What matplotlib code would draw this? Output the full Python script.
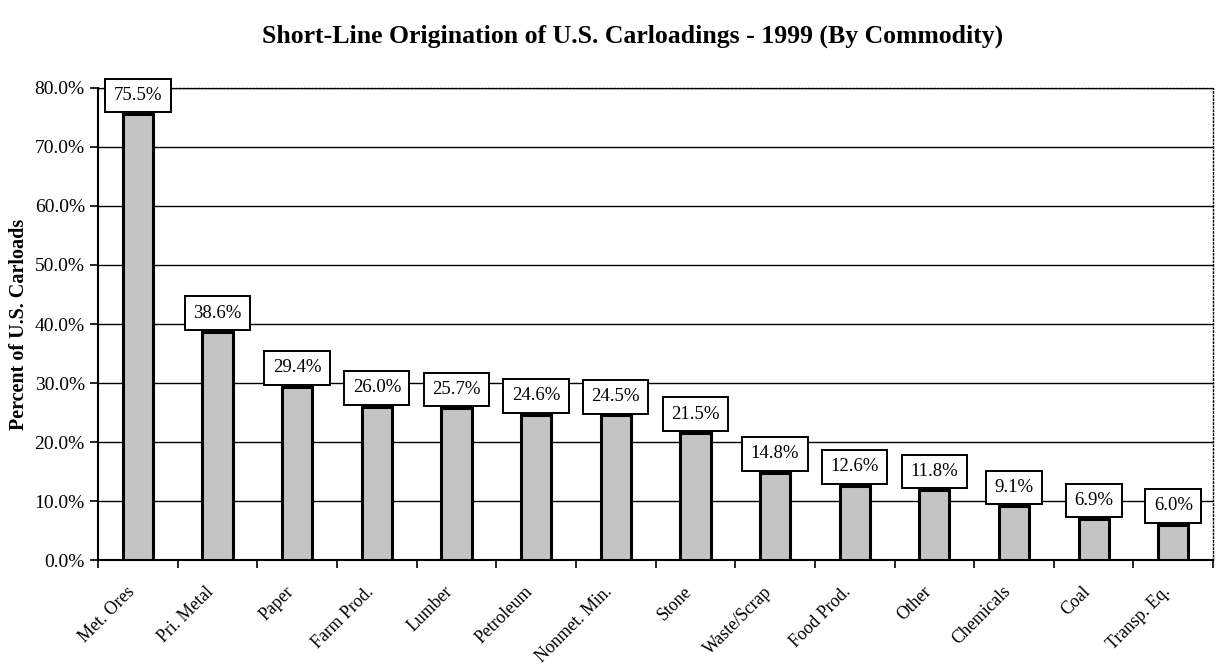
import matplotlib.pyplot as plt
import matplotlib.transforms as mtransforms
import numpy as np

commodities = ['Met. Ores', 'Pri. Metal', 'Paper', 'Farm Prod.', 'Lumber', 'Petroleum',
               'Nonmet. Min.', 'Stone', 'Waste/Scrap', 'Food Prod.', 'Other',
               'Chemicals', 'Coal', 'Transp. Eq.']
shares = [75.5, 38.6, 29.4, 26.0, 25.7, 24.6, 24.5, 21.5, 14.8, 12.6, 11.8, 9.1, 6.9, 6.0]

plt.rcParams['font.family'] = ['Liberation Serif', 'DejaVu Serif']

fig = plt.figure(figsize=(12.18, 6.66), dpi=100)
ax = fig.add_axes([0.0805, 0.159, 0.9155, 0.709])

x = np.arange(len(commodities))
ax.bar(x, shares, width=0.38, color='#c4c4c4', edgecolor='black', linewidth=2.2, zorder=3)

for xi, v in zip(x, shares):
    ax.annotate(f'{v:.1f}%', (xi, v), xytext=(0, 7.5), textcoords='offset points',
                ha='center', va='bottom', fontsize=13.5, zorder=5,
                bbox=dict(boxstyle='square,pad=0.45', fc='white', ec='black', lw=1.4))

ax.set_xlim(-0.5, len(commodities) - 0.5)
ax.set_ylim(0, 80)
ax.set_yticks(np.arange(0, 81, 10))
ax.set_yticklabels([f'{t:.1f}%' for t in np.arange(0, 81, 10)], fontsize=14)
ax.yaxis.grid(True, color='black', linewidth=1, zorder=0)
ax.set_axisbelow(True)

ax.set_xticks(x)
ax.set_xticklabels(commodities, rotation=45, ha='right', va='center',
                   rotation_mode='anchor', fontsize=12.8)
ax.tick_params(axis='x', length=0, pad=21)
shift = mtransforms.ScaledTranslation(-6 / 100, 0, fig.dpi_scale_trans)
for lab in ax.get_xticklabels():
    lab.set_transform(lab.get_transform() + shift)
ax.set_xticks(np.arange(-0.5, len(commodities)), minor=True)
ax.tick_params(axis='x', which='minor', length=6, width=1.2, direction='out')
ax.tick_params(axis='y', length=6, width=1.2, direction='out')

ax.spines['left'].set_linewidth(1.5)
ax.spines['bottom'].set_linewidth(1.5)
for s in ['top', 'right']:
    ax.spines[s].set_linestyle(':')
    ax.spines[s].set_linewidth(1)

ax.set_ylabel('Percent of U.S. Carloads', fontsize=14.5, fontweight='bold', labelpad=4)
fig.text(0.519, 0.945, 'Short-Line Origination of U.S. Carloadings - 1999 (By Commodity)',
         ha='center', va='center', fontsize=18.5, fontweight='bold')

fig.savefig('out.png', dpi=100)
